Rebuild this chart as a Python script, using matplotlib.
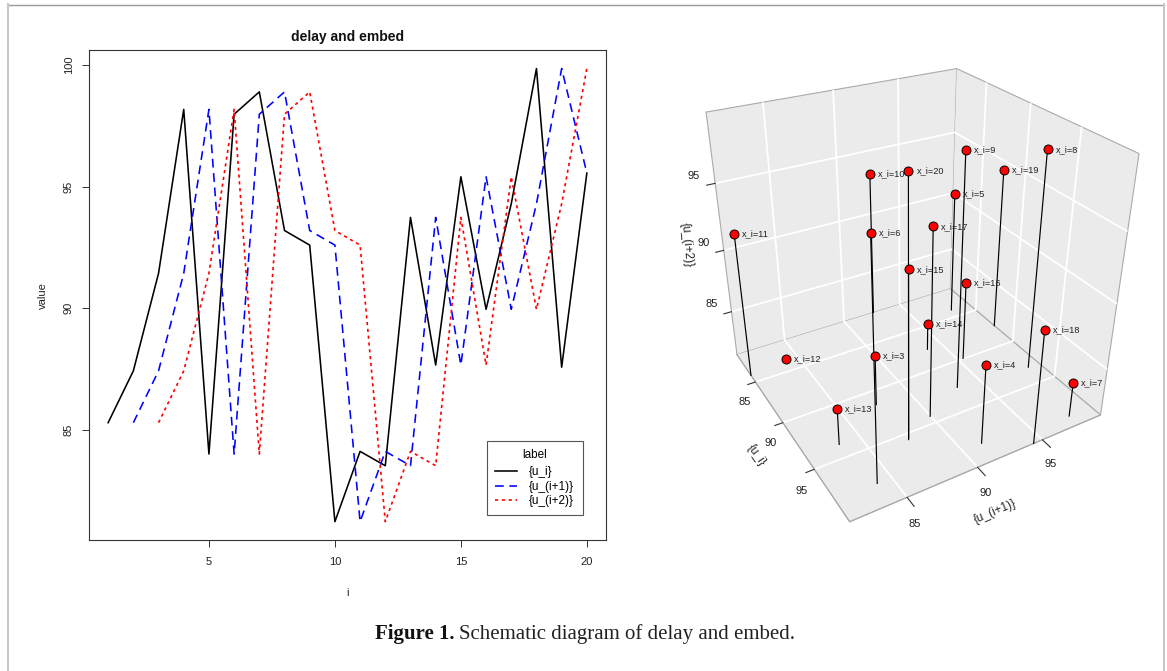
import numpy as np
import matplotlib
matplotlib.use("Agg")
import matplotlib.pyplot as plt
from matplotlib.lines import Line2D
from matplotlib.transforms import offset_copy
from mpl_toolkits.mplot3d import proj3d

plt.rcParams['font.family'] = ['Liberation Sans', 'DejaVu Sans']

index = list(range(1, 21))
u_i = [85.3, 87.43, 91.44, 98.18, 84.01, 97.98, 98.9, 93.2, 92.6, 81.23,
       84.12, 83.53, 93.74, 87.67, 95.41, 89.96, 94.3, 99.86, 87.58, 95.56]
u_i1 = [85.3, 87.43, 91.44, 98.18, 84.01, 97.98, 98.9, 93.2, 92.6, 81.23,
        84.12, 83.53, 93.74, 87.67, 95.41, 89.96, 94.3, 99.86, 95.56]
u_i2 = [85.3, 87.43, 91.44, 98.18, 84.01, 97.98, 98.9, 93.2, 92.6, 81.23,
        84.12, 83.53, 93.74, 87.67, 95.41, 89.96, 94.3, 99.86]
ticks_3d = [85, 90, 95]
lo, hi = 81.23, 99.86

W, H = 1167, 671
fig = plt.figure(figsize=(W / 100, H / 100), dpi=100)

# page frame
fig.add_artist(Line2D([8 / W, 1164 / W], [1 - 4.5 / H, 1 - 4.5 / H], color='#9a9a9a', lw=1))
fig.add_artist(Line2D([8 / W, 8 / W], [0, 1 - 4 / H], color='#c8c8c8', lw=1.5))
fig.add_artist(Line2D([1164 / W, 1164 / W], [0, 1 - 4 / H], color='#c8c8c8', lw=1.5))

# left panel
ax = fig.add_axes([89 / W, 1 - 539.8 / H, 517 / W, 489.4 / H])
ax.plot(index, u_i, color='black', lw=1.15, label='{u_i}')
ax.plot(index[1:], u_i1, color='blue', lw=1.15, ls=(0, (5.5, 3.5)), label='{u_(i+1)}')
ax.plot(index[2:], u_i2, color='red', lw=1.2, ls=(0, (1.9, 2.2)), label='{u_(i+2)}')
ax.set_xlim(0.24, 20.76)
ax.set_ylim(80.485, 100.605)
ax.set_xticks([5, 10, 15, 20])
ax.set_yticks([85, 90, 95, 100])
ax.tick_params(length=5, width=0.7, color='#333333', labelsize=8, labelcolor='#222222', pad=6)
ax.tick_params(axis='x', pad=7.5)
plt.setp(ax.get_yticklabels(), rotation=90, va='center')
for s in ax.spines.values():
    s.set_linewidth(0.8)
    s.set_color('#333333')
ax.set_title('delay and embed', fontsize=10, fontweight='bold', pad=7, color='#111111')
ax.set_xlabel('i', fontsize=8, labelpad=15, color='#222222')
ax.set_ylabel('value', fontsize=8, labelpad=11.5, color='#222222')
leg = ax.legend(title='label', loc='lower left', bbox_to_anchor=(486.7 / W, 1 - 515.3 / H),
                bbox_transform=fig.transFigure, borderaxespad=0, fontsize=8.5, title_fontsize=8.5,
                fancybox=False, framealpha=1, edgecolor='#555555', handlelength=1.9,
                handletextpad=1.0, labelspacing=0.2, borderpad=0.7)
leg._legend_box.sep = 3.5
leg.get_frame().set_linewidth(0.8)

# right panel
ax3 = fig.add_axes([(903 - 242.5) / W, 1 - (274.9 + 242.5) / H, 485 / W, 485 / H], projection='3d')
ax3.patch.set_alpha(0)
ax3.view_init(30, -30)
ax3.set_proj_type('persp', focal_length=0.3174)
ax3.set_box_aspect((1, 1, 1))
ax3.set_xlim(lo, hi)
ax3.set_ylim(lo, hi)
ax3.set_zlim(lo, hi)
ax3.computed_zorder = False
for axis, tick_len in ((ax3.xaxis, 0.38), (ax3.yaxis, 0.55), (ax3.zaxis, 0.38)):
    axis.set_ticks(ticks_3d)
    axis.set_pane_color('#ebebeb')
    axis.pane.set_edgecolor('#aaaaaa')
    axis.pane.set_linewidth(0.8)
    axis.line.set_color('#aaaaaa')
    axis.line.set_linewidth(0.8)
    axis._axinfo['grid'].update(color='white', linewidth=1.3)
    axis._axinfo['tick'].update(inward_factor=tick_len, outward_factor=0)
ax3.zaxis.set_ticks_position('lower')
ax3.tick_params(labelsize=8, labelcolor='#222222', color='#333333', width=0.7, pad=1)
ax3.tick_params(axis='z', pad=2.5)
for t in ax3.zaxis.get_major_ticks():
    t.label1.set_va('bottom')

# x_i = (u_i, u_(i-1), u_(i-2))
xs = u_i[2:]
ys = u_i[1:19]
zs = u_i[:18]
for x, y, z in zip(xs, ys, zs):
    ax3.plot([x, x], [y, y], [lo, z], color='black', lw=0.85, zorder=2)
ax3.scatter(xs, ys, zs, s=42, c='red', edgecolors='black', linewidths=0.7,
            depthshade=False, zorder=3)
label_tr = offset_copy(ax3.transData, fig=fig, x=8, y=0, units='dots')
px, py, _ = proj3d.proj_transform(np.array(xs), np.array(ys), np.array(zs), ax3.get_proj())
for i, x2, y2 in zip(index[2:], px, py):
    ax3.text2D(x2, y2, f'x_i={i}', fontsize=6.6, color='#222222', ha='left', va='center',
               transform=label_tr, zorder=4)

fig.text(687 / W, 1 - 245 / H, '{u_(i+2)}', fontsize=8.5, rotation=-85, ha='center', va='center', color='#222222')
fig.text(756.7 / W, 1 - 455.7 / H, '{u_i}', fontsize=8.5, rotation=-55, ha='center', va='center', color='#222222')
fig.text(995 / W, 1 - 511.7 / H, '{u_(i+1)}', fontsize=8.5, rotation=23, ha='center', va='center', color='#222222')

# caption
fig.text(375 / W, 1 - 639 / H, 'Figure 1.', fontsize=15, fontweight='bold', family='Liberation Serif', color='#111111')
fig.text(459 / W, 1 - 639 / H, 'Schematic diagram of delay and embed.', fontsize=15,
         family='Liberation Serif', color='#222222')

fig.savefig('out.png', dpi=100)
